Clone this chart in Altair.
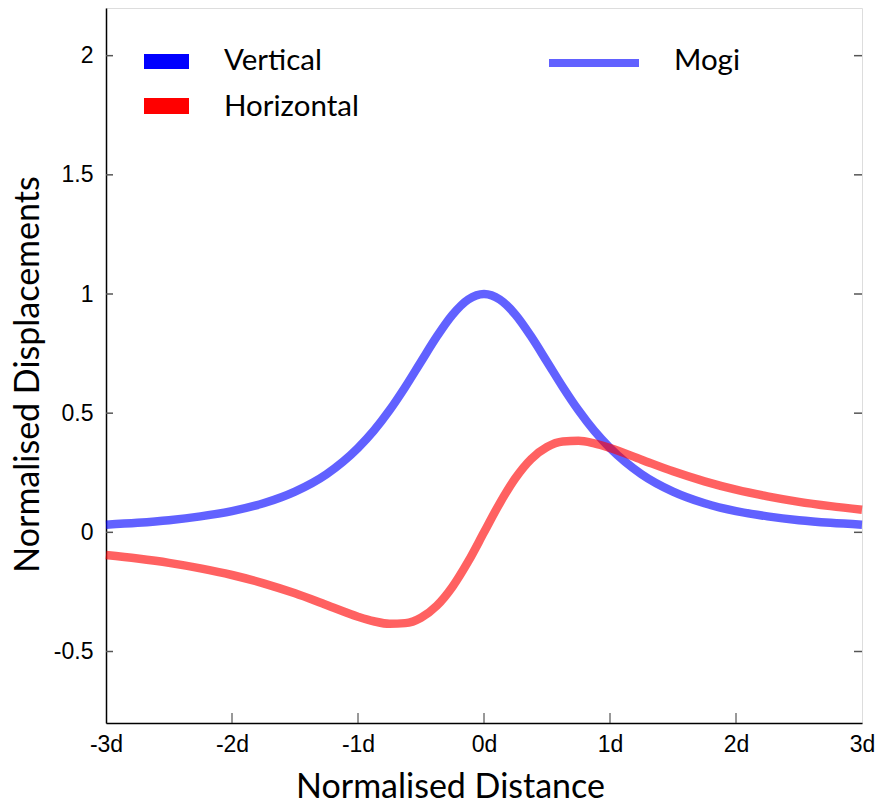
import altair as alt
import pandas as pd

# Normalised distance (in units of source depth d)
x_vals = [-3, -2.75, -2.5, -2.25, -2, -1.75, -1.5, -1.25, -1, -0.875, -0.75, -0.625, -0.5, -0.375, -0.25, -0.125,
          0, 0.125, 0.25, 0.375, 0.5, 0.625, 0.75, 0.875, 1, 1.25, 1.5, 1.75, 2, 2.25, 2.5, 2.75, 3]
vertical = [0.032, 0.040, 0.051, 0.067, 0.089, 0.122, 0.171, 0.244, 0.354, 0.426, 0.512, 0.610, 0.716, 0.821, 0.913, 0.977,
            1.0, 0.977, 0.913, 0.821, 0.716, 0.610, 0.512, 0.426, 0.354, 0.244, 0.171, 0.122, 0.089, 0.067, 0.051, 0.040, 0.032]
horizontal = [-0.095, -0.110, -0.128, -0.151, -0.179, -0.214, -0.256, -0.305, -0.354, -0.373, -0.384, -0.381, -0.358, -0.308, -0.228, -0.122,
              0.0, 0.122, 0.228, 0.308, 0.358, 0.381, 0.384, 0.373, 0.354, 0.305, 0.256, 0.214, 0.179, 0.151, 0.128, 0.110, 0.095]
series_names = ["Vertical", "Horizontal"]
series_colors = ["#0000ff", "#ff0000"]
x_ticks = [-3, -2, -1, 0, 1, 2, 3]
y_ticks = [-0.5, 0, 0.5, 1, 1.5, 2]

W, H = 756, 715
TITLE_FONT = "Lato"
LABEL_FONT = "Liberation Sans"

rows = []
for xv, v, h in zip(x_vals, vertical, horizontal):
    rows.append({"x": xv, "value": v, "series": "Vertical"})
    rows.append({"x": xv, "value": h, "series": "Horizontal"})
df = pd.DataFrame(rows)

xscale = alt.Scale(domain=[-3, 3], nice=False, zero=False)
yscale = alt.Scale(domain=[-0.8, 2.2], nice=False, zero=False)

lines = alt.Chart(df).mark_line(strokeWidth=8.5, opacity=0.62, interpolate="monotone").encode(
    x=alt.X("x:Q", scale=xscale,
            axis=alt.Axis(values=x_ticks, labelExpr="datum.value + 'd'", title="Normalised Distance",
                          grid=False, ticks=False, domainColor="black", domainWidth=1.5,
                          labelFlush=False, labelOverlap=False,
                          labelFont=LABEL_FONT, labelFontSize=23, labelColor="black", labelPadding=10,
                          titleFont=TITLE_FONT, titleFontSize=34, titleFontWeight="normal", titleColor="black",
                          titlePadding=14, titleX=344)),
    y=alt.Y("value:Q", scale=yscale,
            axis=alt.Axis(values=y_ticks, labelExpr="'' + datum.value", title="Normalised Displacements",
                          grid=False, ticks=False, domainColor="black", domainWidth=1.5,
                          labelFlush=False, labelOverlap=False,
                          labelFont=LABEL_FONT, labelFontSize=23, labelColor="black", labelPadding=13,
                          titleFont=TITLE_FONT, titleFontSize=34, titleFontWeight="normal", titleColor="black",
                          titlePadding=8, titleY=366)),
    color=alt.Color("series:N", scale=alt.Scale(domain=series_names, range=series_colors), legend=None),
    detail="series:N",
)

xt = pd.DataFrame({"t": x_ticks[1:-1]})
yt = pd.DataFrame({"t": y_ticks})

xticks = alt.Chart(xt).mark_rule(color="#333333", strokeWidth=1).encode(
    x=alt.X("t:Q", scale=xscale), y=alt.value(H), y2=alt.value(H - 10))
yticks_l = alt.Chart(yt).mark_rule(color="#555555", strokeWidth=1.5).encode(
    y=alt.Y("t:Q", scale=yscale), x=alt.value(0), x2=alt.value(7))
yticks_r = alt.Chart(yt).mark_rule(color="#555555", strokeWidth=1.5).encode(
    y=alt.Y("t:Q", scale=yscale), x=alt.value(W - 8), x2=alt.value(W))

one = alt.Data(values=[{"k": 1}])
leg_v_rect = alt.Chart(one).mark_rect(color="#0000ff").encode(
    x=alt.value(38), x2=alt.value(83), y=alt.value(46), y2=alt.value(61))
leg_h_rect = alt.Chart(one).mark_rect(color="#ff0000").encode(
    x=alt.value(38), x2=alt.value(83), y=alt.value(90), y2=alt.value(106))
leg_m_line = alt.Chart(one).mark_rule(color="#0000ff", opacity=0.62, strokeWidth=8).encode(
    x=alt.value(443), x2=alt.value(533), y=alt.value(55))
leg_text_style = dict(font=TITLE_FONT, fontSize=29.5, align="left", baseline="middle", color="black")
leg_v_text = alt.Chart(one).mark_text(**leg_text_style).encode(
    x=alt.value(118), y=alt.value(53), text=alt.value("Vertical"))
leg_h_text = alt.Chart(one).mark_text(**leg_text_style).encode(
    x=alt.value(118), y=alt.value(99), text=alt.value("Horizontal"))
leg_m_text = alt.Chart(one).mark_text(**leg_text_style).encode(
    x=alt.value(568), y=alt.value(53), text=alt.value("Mogi"))

chart = alt.layer(
    lines, xticks, yticks_l, yticks_r,
    leg_v_rect, leg_h_rect, leg_m_line, leg_v_text, leg_h_text, leg_m_text,
).properties(
    width=W, height=H,
    autosize=alt.AutoSizeParams(type="none"),
    padding={"left": 106, "top": 8, "right": 14, "bottom": 83},
).configure_view(stroke="black", strokeWidth=1.5).configure(background="white")

chart.save("out.html", embed_options={"renderer": "svg", "actions": False})
